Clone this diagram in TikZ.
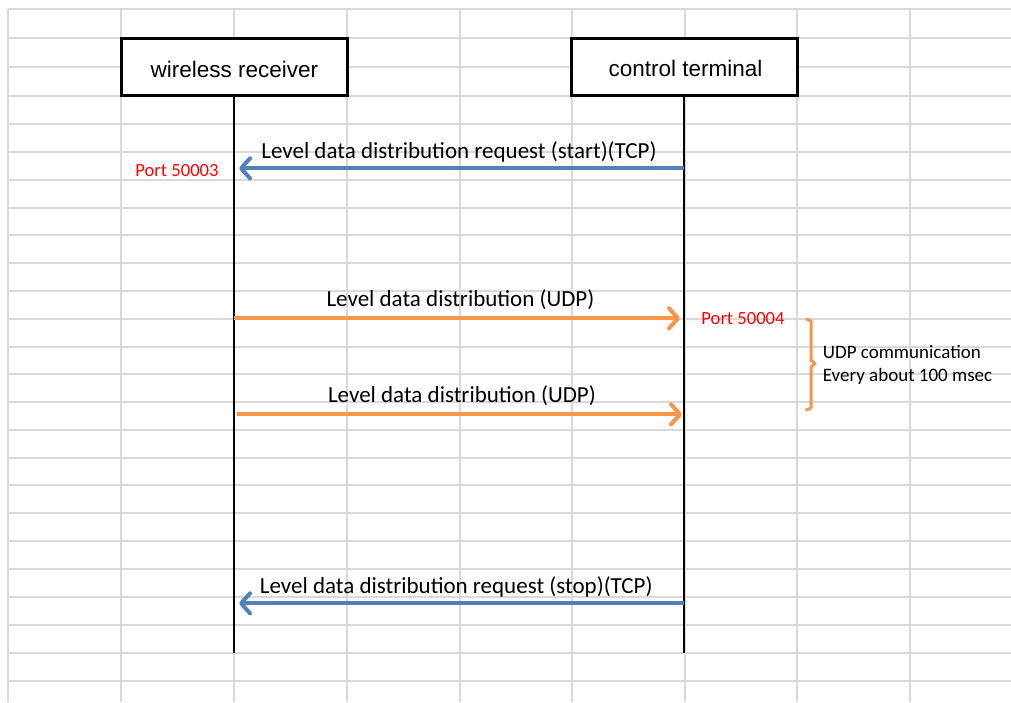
\documentclass[tikz,border=0pt]{standalone}
\usepackage{fontspec}
\setmainfont{Carlito}
\newfontfamily\boxfont{Liberation Sans}
\usetikzlibrary{arrows.meta}
\definecolor{gridgray}{HTML}{D9D9D9}
\definecolor{tcpblue}{HTML}{4F81BD}
\definecolor{udporange}{HTML}{F79646}
\definecolor{portred}{HTML}{FF0000}
\tikzset{
  gridline/.style={draw=gridgray, line width=2pt},
  actor/.style={draw=black, line width=3pt, minimum width=226pt, minimum height=57pt, inner sep=0pt, fill=white},
  actortext/.style={font=\boxfont\fontsize{22.5}{26}\selectfont},
  lifeline/.style={draw=black, line width=2pt},
  tip/.style={-{Straight Barb[length=9pt, width=20pt, line cap=round, line join=round]}},
  tcp/.style={tip, draw=tcpblue, line width=4pt},
  udp/.style={tip, draw=udporange, line width=4pt},
  msg/.style={anchor=base, inner sep=0pt, font=\fontsize{23}{26}\selectfont},
  port/.style={anchor=base, inner sep=0pt, text=portred, font=\fontsize{18.6}{21}\selectfont},
  note/.style={anchor=base west, inner sep=0pt, font=\fontsize{19}{22}\selectfont},
}
\begin{document}
\begin{tikzpicture}[x=1pt, y=-1pt]
\useasboundingbox (0,0) rectangle (1011,702);
\fill[white] (0,0) rectangle (1011,702);
% spreadsheet grid
\foreach \yy in {9.3,38,67,96,124,152.3,180,207.5,235,263,291,318.5,346.5,374.3,402,429.5,457.5,485.3,513.2,541,569,597,625,653,681}
  \draw[gridline] (8.3,\yy) -- (1011,\yy);
\foreach \xx in {8.3,121,234,346.7,459.5,572,684.5,797,910}
  \draw[gridline] (\xx,9.3) -- (\xx,702);
% actors
\node[actor] (wr) at (234,66.5) {};
\node[actor] (ct) at (684.5,66.5) {};
\node[actortext, anchor=base, inner sep=0pt] (wrt) at (234.5,77.3) {wireless receiver};
\node[actortext, anchor=base, inner sep=0pt] (ctt) at (685.5,76.7) {control terminal};
% lifelines
\coordinate (wrend) at (234,653);
\coordinate (ctend) at (684,653);
\draw[lifeline] (wr.south) -- (wrend);
\draw[lifeline] (wr.south -| ctend) -- (ctend);
% message end points
\coordinate (ct1) at (684,168.3);
\coordinate (wr1) at (239,168.3);
\coordinate (wr2) at (234,318.3);
\coordinate (ct2) at (680,318.3);
\coordinate (wr3) at (236.5,414.3);
\coordinate (ct3) at (682,414.3);
\coordinate (ct4) at (684,603.3);
\coordinate (wr4) at (239,603.3);
\draw[tcp] (ct1) -- (wr1);
\draw[udp] (wr2) -- (ct2);
\draw[udp] (wr3) -- (ct3);
\draw[tcp] (ct4) -- (wr4);
% labels
\node[msg] (m1) at (459,158.3) {Level data distribution request (start)(TCP)};
\node[msg] (m2) at (460.5,306.7) {Level data distribution (UDP)};
\node[msg] (m3) at (462,402.3) {Level data distribution (UDP)};
\node[msg] (m4) at (456.3,593.3) {Level data distribution request (stop)(TCP)};
\node[port] (p1) at (177,176) {Port 50003};
\node[port] (p2) at (743,324) {Port 50004};
% bracket
\coordinate (bt) at (806.5,319);
\coordinate (bb) at (806.5,410);
\draw[udporange, line width=3pt, line cap=round, line join=round]
  (bt) -- (811,321) -- (811,360) -- (815,363.5) -- (811,367) -- (811,408) -- (bb);
\node[note] (n1) at (822.7,358.3) {UDP communication};
\node[note] (n2) at (822.7,381) {Every about 100 msec};
\end{tikzpicture}
\end{document}
